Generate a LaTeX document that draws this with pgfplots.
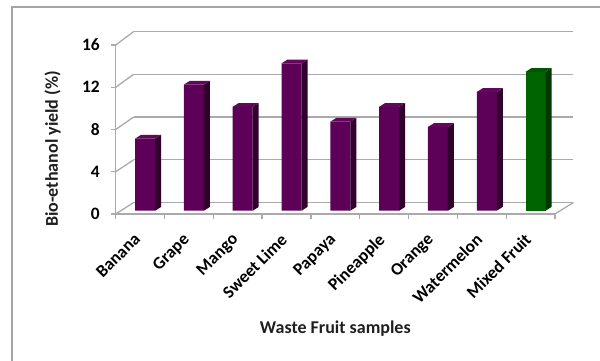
\documentclass[border=0pt]{standalone}
\usepackage{pgfplots}
\pgfplotsset{compat=1.18}
\usepackage{pgfplotstable}
\usepackage{fontspec}
\setmainfont{Carlito}

\definecolor{barP}{RGB}{92,0,88}
\definecolor{barPside}{RGB}{50,0,47}
\definecolor{barPtop}{RGB}{98,6,94}
\definecolor{barG}{RGB}{0,100,0}
\definecolor{barGside}{RGB}{0,56,0}
\definecolor{barGtop}{RGB}{0,86,0}
\definecolor{gridgray}{RGB}{170,170,170}
\definecolor{framegray}{RGB}{165,165,165}

% bio-ethanol yield (%) per waste fruit sample
\pgfplotstableread{
idx yield
0.5 6.8
1.5 11.9
2.5 9.8
3.5 13.9
4.5 8.4
5.5 9.8
6.5 7.9
7.5 11.2
}\fruitdata
\pgfplotstableread{
idx yield
8.5 13.1
}\mixeddata

\newcommand\tickfont{\bfseries\fontsize{17.4}{20}\selectfont}
\newcommand\titlefont{\bfseries\fontsize{18}{21}\selectfont}

% vertical scale of the bar plane (per unit of yield)
\def\barunit{10.6pt}

% side and top faces of a 3-D column, drawn from the top centre of its front face
\newcommand\declarebarfaces[3]{%
  \pgfdeclareplotmark{#1}{%
    \pgfsetfillcolor{#2}%
    \pgfpathmoveto{\pgfqpoint{10pt}{0pt}}%
    \pgfpathlineto{\pgfpoint{10pt}{-\val*\barunit}}%
    \pgfpathlineto{\pgfpoint{16pt}{-\val*\barunit+3.8pt}}%
    \pgfpathlineto{\pgfqpoint{16pt}{3.8pt}}%
    \pgfpathclose
    \pgfusepath{fill}%
    \pgfsetfillcolor{#3}%
    \pgfpathmoveto{\pgfqpoint{-10pt}{0pt}}%
    \pgfpathlineto{\pgfqpoint{10pt}{0pt}}%
    \pgfpathlineto{\pgfqpoint{16pt}{3.8pt}}%
    \pgfpathlineto{\pgfqpoint{-4pt}{3.8pt}}%
    \pgfpathclose
    \pgfusepath{fill}%
  }}
\declarebarfaces{facesP}{barPside}{barPtop}
\declarebarfaces{facesG}{barGside}{barGtop}

\pgfplotsset{
  plane/.style={scale only axis, width=439.3pt, xmin=0, xmax=9, ymin=0, ymax=16,
    anchor=south west, clip=false},
  faces/.style={scatter, only marks, mark=#1,
    visualization depends on={rawy \as \val},
    scatter/@pre marker code/.code={}, scatter/@post marker code/.code={}},
}

\begin{document}
\begin{tikzpicture}
\useasboundingbox (0,0) rectangle (600pt,360pt);
\fill[white] (0,0) rectangle (600pt,360pt);
\draw[framegray, line width=1.6pt] (12pt,-2pt) -- (12pt,353pt) -- (602pt,353pt);

% back wall with gridlines
\begin{axis}[plane, at={(133.7pt,157.5pt)}, height=171pt,
  axis line style={draw=none}, xtick=\empty, ytick={0,4,...,16},
  yticklabels={}, major tick length=0pt,
  ymajorgrids, grid style={gridgray, line width=1.3pt}]
\addplot[draw=none] coordinates {(0,0)};
\end{axis}

% left wall and floor edges
\foreach \k in {0,...,4}
  \draw[gridgray, line width=1.3pt] (115.7pt,146pt+\k*42.25pt) -- (133.7pt,157.5pt+\k*42.75pt);
\draw[gridgray, line width=1.3pt] (555pt,146pt) -- (573.4pt,157.5pt);

% front axes: ticks, labels and titles
\begin{axis}[plane, at={(115.7pt,146pt)}, height=169pt,
  axis x line*=bottom, axis y line*=left,
  axis line style={gridgray, line width=1.3pt},
  tick style={gridgray, line width=1.3pt}, tick align=outside,
  ytick={0,4,...,16}, major tick length=4.5pt,
  xtick={0,...,9}, xticklabels={},
  extra x ticks={0.5,1.5,...,8.5},
  extra x tick labels={Banana, Grape, Mango, Sweet Lime, Papaya, Pineapple, Orange, Watermelon, Mixed Fruit},
  extra x tick style={major tick length=0pt,
    xticklabel style={inner sep=0pt, anchor=north east, xshift=-7pt, yshift=-18pt, rotate=45}},
  /pgf/number format/assume math mode=true,
  ticklabel style={font=\tickfont, text=black},
  yticklabel style={xshift=-8pt},
  xlabel={Waste Fruit samples}, ylabel={Bio-ethanol yield (\%)},
  label style={font=\titlefont, text=black!88},
  xlabel style={at={(axis description cs:0.5,0)}, anchor=center, yshift=-114.3pt},
  ylabel style={at={([xshift=-63.2pt]axis description cs:0,0.385)}, anchor=center}]
\addplot[draw=none] coordinates {(0,0)};
\end{axis}

% columns
\begin{axis}[plane, at={(120.7pt,149.3pt)}, height=169.6pt, hide axis]
\addplot[ybar, bar width=20pt, bar shift=0pt, fill=barP, draw=none] table[x=idx, y=yield] {\fruitdata};
\addplot[faces=facesP] table[x=idx, y=yield] {\fruitdata};
\addplot[ybar, bar width=20pt, bar shift=0pt, fill=barG, draw=none] table[x=idx, y=yield] {\mixeddata};
\addplot[faces=facesG] table[x=idx, y=yield] {\mixeddata};
\end{axis}
\end{tikzpicture}
\end{document}
